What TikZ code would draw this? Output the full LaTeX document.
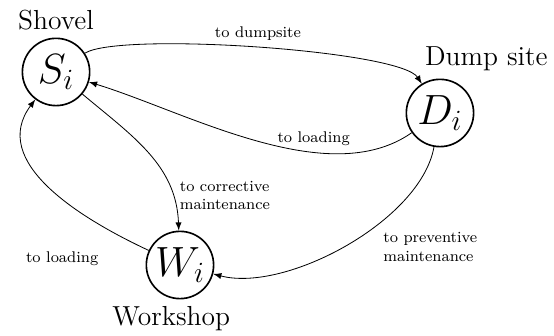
\documentclass[tikz,border=0pt]{standalone}
\usetikzlibrary{arrows}

\tikzset{
  state/.style={circle,draw,thick,minimum size=1.16cm,inner sep=0pt,font=\huge},
  lbl/.style={font=\fontsize{7.6}{9}\selectfont,align=left},
  site/.style={font=\fontsize{13.5}{16}\selectfont}
}

\begin{document}
\begin{tikzpicture}
  \useasboundingbox (0,0) rectangle (9.552,5.793);
  \node[state,label={[site]above:Shovel}] (S) at (0.966,4.552) {$S_i$};
  \node[state,label={[site,xshift=0.8cm]above:Dump site}] (D) at (7.586,3.845) {$D_i$};
  \node[state,label={[site,xshift=-0.15cm]below:Workshop}] (W) at (3.103,1.224) {$W_i$};
  \path[-latex]
    (S) edge[out=33,in=122,looseness=0.3] node[lbl,above] {to dumpsite} (D)
        edge[out=-40,in=92] node[lbl,right,pos=0.8] {to corrective\\maintenance} (W)
    (D) edge[out=215,in=-17,looseness=0.8] node[lbl,above,pos=0.33] {to loading} (S)
        edge[out=-100,in=-15,looseness=0.75] node[lbl,below right,pos=0.38] {to preventive\\maintenance} (W)
    (W) edge[out=155,in=-127,looseness=1.05] node[lbl,below left,pos=0.2,yshift=-0.28cm] {to loading} (S);
\end{tikzpicture}
\end{document}
